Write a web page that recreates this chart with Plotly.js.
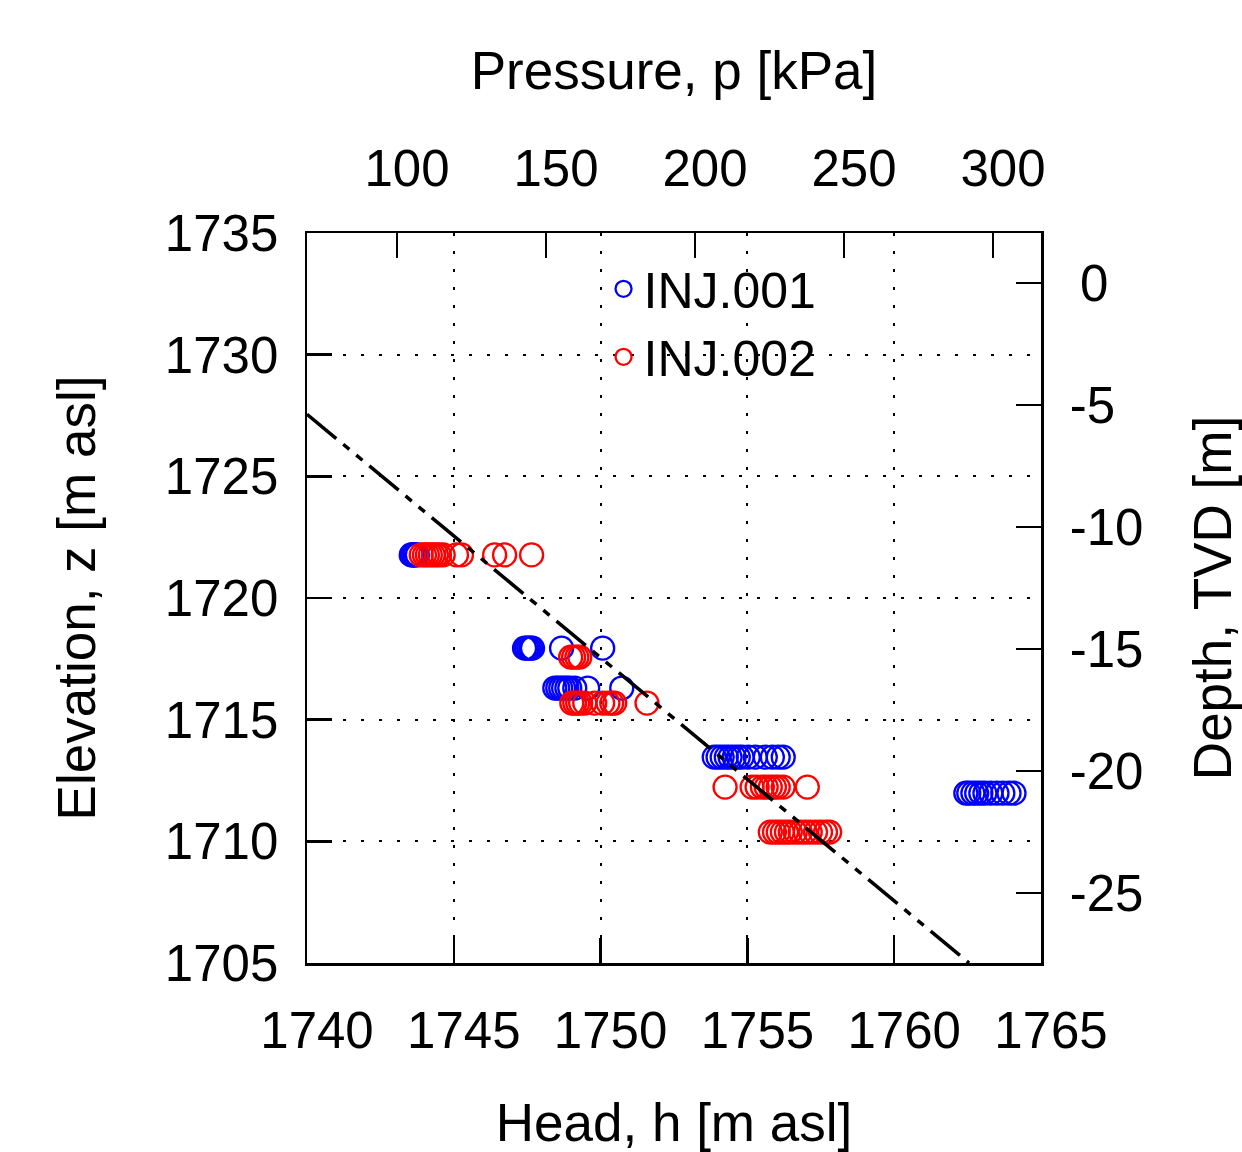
<!DOCTYPE html>
<html>
<head>
<meta charset="utf-8">
<script src="https://cdn.plot.ly/plotly-3.0.1.min.js"></script>
<style>html,body{margin:0;padding:0;background:#fff;}#chart{width:1242px;height:1152px;}</style>
</head>
<body>
<div id="chart"></div>
<script>
// INJ.001 (blue) : head h [m asl] and elevation z [m asl]
const inj001Head = [
  1743.55, 1743.59, 1743.62, 1743.65, 1743.69, 1743.76,
  1747.41, 1747.48, 1747.55, 1747.62, 1747.68, 1748.67, 1750.07,
  1748.44, 1748.54, 1748.64, 1748.74, 1748.85, 1748.95, 1749.12, 1749.56, 1750.72,
  1753.87, 1754.00, 1754.14, 1754.28, 1754.41, 1754.55, 1754.69, 1754.82, 1755.03, 1755.27, 1755.61, 1755.85, 1756.05, 1756.22,
  1762.44, 1762.54, 1762.68, 1762.81, 1762.95, 1763.09, 1763.29, 1763.50, 1763.70, 1763.91, 1764.08
];
const inj001Elev = [
  1721.77, 1721.77, 1721.77, 1721.77, 1721.77, 1721.77,
  1717.94, 1717.94, 1717.94, 1717.94, 1717.94, 1717.94, 1717.94,
  1716.30, 1716.30, 1716.30, 1716.30, 1716.30, 1716.30, 1716.30, 1716.30, 1716.30,
  1713.46, 1713.46, 1713.46, 1713.46, 1713.46, 1713.46, 1713.46, 1713.46, 1713.46, 1713.46, 1713.46, 1713.46, 1713.46, 1713.46,
  1711.98, 1711.98, 1711.98, 1711.98, 1711.98, 1711.98, 1711.98, 1711.98, 1711.98, 1711.98, 1711.98
];
// INJ.002 (red)
const inj002Head = [
  1743.89, 1744.00, 1744.10, 1744.20, 1744.30, 1744.41, 1744.51, 1744.64, 1745.09, 1745.26, 1746.39, 1746.73, 1747.65,
  1748.98, 1749.08, 1749.19, 1749.29,
  1749.02, 1749.12, 1749.22, 1749.32, 1749.46, 1749.80, 1750.07, 1750.25, 1750.38, 1750.48, 1751.58,
  1754.24, 1755.16, 1755.33, 1755.51, 1755.64, 1755.78, 1755.92, 1756.05, 1756.22, 1757.04,
  1755.78, 1755.92, 1756.05, 1756.19, 1756.33, 1756.46, 1756.63, 1756.80, 1756.97, 1757.14, 1757.32, 1757.49, 1757.66, 1757.80
];
const inj002Elev = [
  1721.77, 1721.77, 1721.77, 1721.77, 1721.77, 1721.77, 1721.77, 1721.77, 1721.77, 1721.77, 1721.77, 1721.77, 1721.77,
  1717.57, 1717.57, 1717.57, 1717.57,
  1715.68, 1715.68, 1715.68, 1715.68, 1715.68, 1715.68, 1715.68, 1715.68, 1715.68, 1715.68, 1715.68,
  1712.23, 1712.23, 1712.23, 1712.23, 1712.23, 1712.23, 1712.23, 1712.23, 1712.23, 1712.23,
  1710.38, 1710.38, 1710.38, 1710.38, 1710.38, 1710.38, 1710.38, 1710.38, 1710.38, 1710.38, 1710.38, 1710.38, 1710.38, 1710.38
];
// hydrostatic reference line
const refHead = [1740, 1762.55];
const refElev = [1727.55, 1705];

// axis ranges and ticks
const headRange = [1740, 1765];
const elevRange = [1705, 1735];
const pressRange = [69.8, 316.1];
const pressTicks = [100, 150, 200, 250, 300];
const depthRange = [-27.87, 2.05];
const depthTicks = [0, -5, -10, -15, -20, -25];
const depthTickText = ['\u20090', '-5', '-10', '-15', '-20', '-25'];

const FONT = 'Liberation Sans, Arial, sans-serif';
const markerSize = 23;

const traces = [
  {x: inj001Head, y: inj001Elev, type: 'scatter', mode: 'markers', name: 'INJ.001',
   marker: {symbol: 'circle-open', size: markerSize, color: '#0000ff', line: {width: 2.3}}},
  {x: inj002Head, y: inj002Elev, type: 'scatter', mode: 'markers', name: 'INJ.002',
   marker: {symbol: 'circle-open', size: markerSize, color: '#ff0000', line: {width: 2.3}}},
  {x: refHead, y: refElev, type: 'scatter', mode: 'lines', showlegend: false, hoverinfo: 'skip',
   line: {color: '#000', width: 3.5, dash: '38px,9px,8px,9px,8px,9px'}},
  // empty traces to activate the secondary axes
  {x: [], y: [], xaxis: 'x2', yaxis: 'y', type: 'scatter', showlegend: false},
  {x: [], y: [], xaxis: 'x', yaxis: 'y2', type: 'scatter', showlegend: false}
];

const common = {
  showline: true, linecolor: '#000', linewidth: 2.5, mirror: false,
  ticks: 'inside', ticklen: 25, tickwidth: 2.5, tickcolor: '#000',
  tickfont: {family: FONT, size: 51, color: '#000'},
  zeroline: false, fixedrange: true
};

const layout = {
  width: 1242, height: 1152,
  paper_bgcolor: '#fff', plot_bgcolor: '#fff',
  margin: {l: 307, r: 201, t: 233, b: 189},
  showlegend: true,
  legend: {x: 0.404, y: 0.977, xanchor: 'left', yanchor: 'top', bgcolor: 'rgba(0,0,0,0)',
           font: {family: FONT, size: 50, color: '#000'}, tracegroupgap: 0, itemwidth: 30},
  xaxis: Object.assign({}, common, {
    range: headRange, dtick: 5, tick0: 1740,
    showgrid: true, gridcolor: '#000', gridwidth: 2, griddash: '3px,15px',
    ticklabelstandoff: 21, ticklabelshift: 10,
    title: {text: 'Head, h [m asl]', font: {family: FONT, size: 53, color: '#000'}, standoff: 52}
  }),
  xaxis2: Object.assign({}, common, {
    overlaying: 'x', side: 'top', anchor: 'y', range: pressRange,
    tickmode: 'array', tickvals: pressTicks, showgrid: false,
    ticklabelstandoff: 24, ticklabelshift: 10,
    title: {text: 'Pressure, p [kPa]', font: {family: FONT, size: 53, color: '#000'}, standoff: 34}
  }),
  yaxis: Object.assign({}, common, {
    range: elevRange, dtick: 5, tick0: 1705,
    showgrid: true, gridcolor: '#000', gridwidth: 2, griddash: '3px,15px',
    ticklabelstandoff: 16,
    title: {text: 'Elevation, z [m asl]', font: {family: FONT, size: 53, color: '#000'}, standoff: 53}
  }),
  yaxis2: Object.assign({}, common, {
    overlaying: 'y', side: 'right', anchor: 'x', range: depthRange,
    tickmode: 'array', tickvals: depthTicks, ticktext: depthTickText, showgrid: false,
    ticklabelstandoff: 16,
    title: {text: 'Depth, TVD [m]', font: {family: FONT, size: 53, color: '#000'}, standoff: 54}
  })
};

Plotly.newPlot('chart', traces, layout, {displayModeBar: false, staticPlot: true});
</script>
</body>
</html>
